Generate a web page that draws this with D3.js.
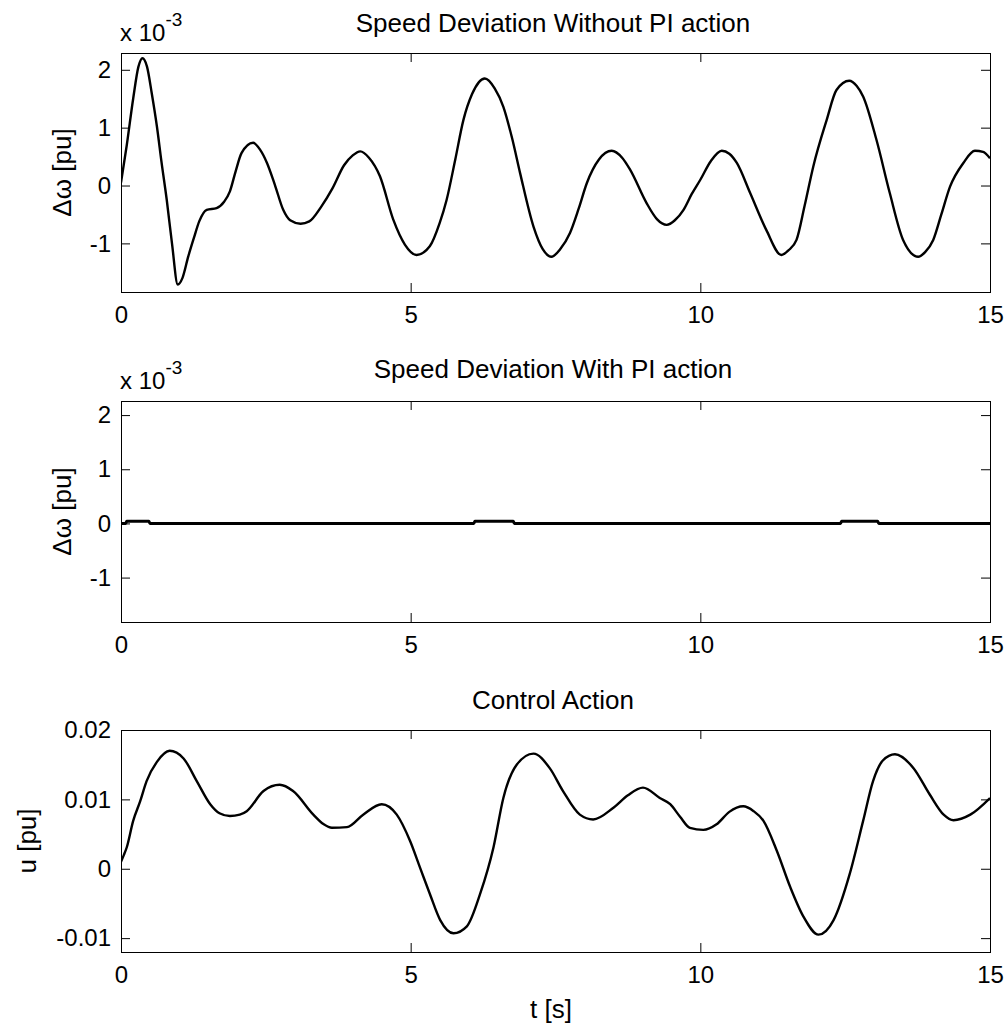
<!DOCTYPE html>
<html lang="en">

<head>
	<meta charset="utf-8">
	<style>
		body {
			margin: 0;
			background-color: white;
		}

		svg {
			background-color: white;
			font-family: 'Liberation Sans', Arial, sans-serif;
		}

		.tick line {
			stroke: black;
		}

		.tick text {
			fill: black;
			font-size: 24px;
		}

		.frame {
			fill: none;
			stroke: black;
			stroke-width: 1px;
		}

		.trace {
			fill: none;
			stroke: black;
			stroke-linejoin: round;
		}

		text.title,
		text.label {
			font-size: 26px;
			fill: black;
		}
	</style>
</head>

<body>
	<svg width=1007 height=1027></svg>
	<script src="https://d3js.org/d3.v7.min.js"></script>
	<script>
		// time axis shared by all three panels
		const xTicks = [0, 5, 10, 15]

		// speed deviation without PI (x 10^-3 pu)
		const t1 = [0.00, 0.10, 0.21, 0.30, 0.37, 0.45, 0.53, 0.62, 0.70, 0.79, 0.88, 0.98, 1.06, 1.16, 1.26, 1.35,
			1.48, 1.65, 1.78, 1.88, 1.98, 2.08, 2.28, 2.40, 2.52, 2.66, 2.80, 2.92, 3.10, 3.25, 3.46, 3.65,
			3.85, 4.00, 4.13, 4.28, 4.47, 4.70, 4.90, 5.10, 5.33, 5.50, 5.62, 5.77, 5.91, 6.06, 6.28, 6.45,
			6.60, 6.75, 6.89, 7.12, 7.28, 7.43, 7.58, 7.75, 7.90, 8.04, 8.25, 8.47, 8.65, 8.79, 9.07, 9.25,
			9.42, 9.56, 9.71, 9.85, 10.00, 10.18, 10.37, 10.50, 10.63, 10.86, 11.14, 11.40, 11.52, 11.66, 11.80, 11.95,
			12.18, 12.35, 12.57, 12.70, 12.81, 13.04, 13.27, 13.50, 13.76, 13.88, 14.02, 14.16, 14.31, 14.54, 14.74, 14.88, 15.00]
		const dw1 = [0.05, 0.70, 1.50, 2.05, 2.20, 2.05, 1.60, 1.02, 0.40, -0.25, -1.00, -1.71, -1.60, -1.23, -0.90, -0.62,
			-0.42, -0.39, -0.28, -0.10, 0.25, 0.56, 0.74, 0.62, 0.39, 0.00, -0.42, -0.60, -0.66, -0.62, -0.36, -0.05,
			0.35, 0.52, 0.59, 0.48, 0.16, -0.59, -1.02, -1.20, -1.05, -0.65, -0.25, 0.45, 1.13, 1.58, 1.85, 1.68,
			1.36, 0.82, 0.21, -0.71, -1.10, -1.23, -1.10, -0.82, -0.40, 0.04, 0.45, 0.60, 0.48, 0.27, -0.30, -0.58,
			-0.68, -0.60, -0.42, -0.15, 0.10, 0.42, 0.60, 0.55, 0.39, -0.13, -0.77, -1.20, -1.12, -0.94, -0.35, 0.33,
			1.13, 1.65, 1.81, 1.72, 1.54, 0.79, -0.13, -0.94, -1.23, -1.15, -0.94, -0.50, -0.02, 0.39, 0.60, 0.58, 0.47]

		// speed deviation with PI (x 10^-3 pu)
		const t2 = [0, 0.08, 0.10, 0.48, 0.50, 6.09, 6.11, 6.77, 6.79, 12.42, 12.44, 13.06, 13.08, 15]
		const dw2 = [0, 0, 0.04, 0.04, 0, 0, 0.04, 0.04, 0, 0, 0.04, 0.04, 0, 0]

		// control action u (pu)
		const t3 = [0.00, 0.05, 0.10, 0.21, 0.33, 0.44, 0.62, 0.84, 1.08, 1.31, 1.54, 1.70, 1.88, 2.05, 2.17, 2.46,
			2.74, 2.97, 3.32, 3.50, 3.64, 3.90, 4.18, 4.50, 4.76, 4.99, 5.16, 5.33, 5.51, 5.74, 5.97, 6.20,
			6.43, 6.60, 6.83, 7.12, 7.40, 7.63, 7.92, 8.15, 8.50, 8.75, 9.01, 9.30, 9.48, 9.65, 9.82, 10.05, 10.28,
			10.50, 10.74, 10.92, 11.09, 11.32, 11.55, 11.78, 12.04, 12.30, 12.58, 12.81, 12.98, 13.15, 13.36, 13.68, 13.96,
			14.20, 14.37, 14.66, 15.00]
		const u3 = [0.0010, 0.0020, 0.0031, 0.0069, 0.0097, 0.0126, 0.0154, 0.0170, 0.0159, 0.0126, 0.0093, 0.0080, 0.0076, 0.0078, 0.0083, 0.0112,
			0.0121, 0.0112, 0.0078, 0.0064, 0.0059, 0.0060, 0.0078, 0.0093, 0.0078, 0.0040, 0.0002, -0.0036, -0.0074, -0.0093, -0.0083, -0.0036,
			0.0031, 0.0102, 0.0150, 0.0166, 0.0145, 0.0112, 0.0078, 0.0071, 0.0088, 0.0106, 0.0117, 0.0102, 0.0093, 0.0075, 0.0059, 0.0056, 0.0064,
			0.0082, 0.0090, 0.0083, 0.0069, 0.0026, -0.0026, -0.0069, -0.0095, -0.0074, -0.0007, 0.0069, 0.0126, 0.0156, 0.0165, 0.0145, 0.0107,
			0.0078, 0.0070, 0.0078, 0.0102]

		const dwTicks = [-1, 0, 1, 2]
		const uTicks = [-0.01, 0, 0.01, 0.02]

		const svg = d3.select("svg")

		// plain hyphen for negatives, as in the original figure
		const plain = d => String(d)

		const panels = [
			{ top: 53, bottom: 292, yDomain: [-1.84, 2.29], yTicks: dwTicks, t: t1, v: dw1, width: 2.4,
				title: "Speed Deviation Without PI action", titleY: 32, ylabel: "\u0394\u03c9  [pu]", ylabelX: 62, expo: true, curve: d3.curveMonotoneX },
			{ top: 401, bottom: 622, yDomain: [-1.82, 2.26], yTicks: dwTicks, t: t2, v: dw2, width: 3,
				title: "Speed Deviation With PI action", titleY: 378, ylabelX: 62, ylabel: "\u0394\u03c9  [pu]", expo: true, curve: d3.curveLinear },
			{ top: 730, bottom: 952, yDomain: [-0.012, 0.02], yTicks: uTicks, t: t3, v: u3, width: 2.4,
				title: "Control Action", titleY: 709, ylabelX: 27, ylabel: "u [pu]", expo: false, curve: d3.curveMonotoneX }
		]
		const left = 121
		const right = 990

		panels.forEach(function (p, i) {
			const x = d3.scaleLinear().domain([0, 15]).range([left, right])
			const y = d3.scaleLinear().domain(p.yDomain).range([p.bottom, p.top])
			const g = svg.append("g").attr("class", "panel-" + i)

			g.append("clipPath").attr("id", "clip" + i)
				.append("rect")
				.attr("x", left).attr("y", p.top)
				.attr("width", right - left).attr("height", p.bottom - p.top)

			// inward ticks on all four sides, like a boxed matlab axes
			g.append("g")
				.attr("transform", "translate(0," + p.bottom + ")")
				.call(d3.axisBottom(x).tickValues(xTicks).tickSize(-9).tickPadding(14).tickFormat(plain))
			g.append("g")
				.attr("transform", "translate(0," + p.top + ")")
				.call(d3.axisTop(x).tickValues(xTicks).tickSize(-9).tickFormat(""))
			g.append("g")
				.attr("transform", "translate(" + left + ",0)")
				.call(d3.axisLeft(y).tickValues(p.yTicks).tickSize(-9).tickPadding(10).tickFormat(plain))
			g.append("g")
				.attr("transform", "translate(" + right + ",0)")
				.call(d3.axisRight(y).tickValues(p.yTicks).tickSize(-9).tickFormat(""))
			g.selectAll(".domain").remove()
			g.selectAll(".tick text").attr("font-family", null).attr("font-size", null)

			const pts = p.t.map((t, k) => ({ t: t, v: p.v[k] }))
			const line = d3.line()
				.curve(p.curve)
				.x(d => x(d.t))
				.y(d => y(d.v))
			g.append("path")
				.datum(pts)
				.attr("class", "trace")
				.attr("clip-path", "url(#clip" + i + ")")
				.attr("stroke-width", p.width)
				.attr("d", line)

			g.append("rect")
				.attr("class", "frame")
				.attr("x", left + 0.5).attr("y", p.top + 0.5)
				.attr("width", right - left).attr("height", p.bottom - p.top)

			g.append("text")
				.attr("class", "title")
				.attr("x", 553).attr("y", p.titleY)
				.attr("text-anchor", "middle")
				.text(p.title)

			const midY = (p.top + p.bottom) / 2
			g.append("text")
				.attr("class", "label")
				.attr("transform", "translate(" + p.ylabelX + "," + midY + ") rotate(-90)")
				.attr("text-anchor", "middle")
				.attr("dy", "0.35em")
				.text(p.ylabel)

			if (p.expo) {
				const ex = g.append("text")
					.attr("x", 120).attr("y", p.top - 12)
					.attr("font-size", "24px")
				ex.append("tspan").text("x 10")
				ex.append("tspan").attr("dy", -15).attr("font-size", "19px").text("-3")
			}
		})

		svg.append("text")
			.attr("class", "label")
			.attr("x", 551).attr("y", 1018)
			.attr("text-anchor", "middle")
			.text("t [s]")
	</script>
</body>

</html>
